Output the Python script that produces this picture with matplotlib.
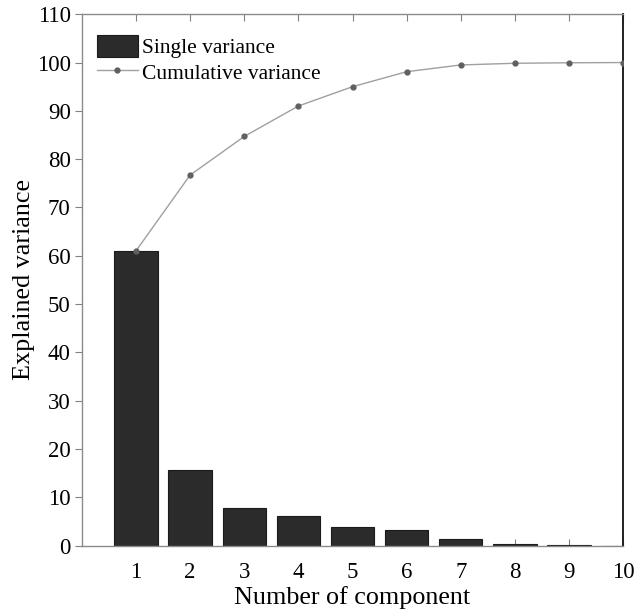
import numpy as np
import matplotlib.pyplot as plt

# values
components = [1, 2, 3, 4, 5, 6, 7, 8, 9, 10]
single_var = [61.0, 15.6, 7.9, 6.2, 3.9, 3.2, 1.45, 0.3, 0.2, 0.0]
cumulative_var = [61.0, 76.7, 84.7, 91.0, 95.0, 98.1, 99.5, 99.85, 99.95, 100.0]
y_ticks = [0, 10, 20, 30, 40, 50, 60, 70, 80, 90, 100, 110]

plt.rcParams['font.family'] = ['Liberation Serif', 'DejaVu Serif']

fig = plt.figure(figsize=(6.34, 6.13), dpi=100)
ax = fig.add_axes([0.129, 0.1098, 0.854, 0.867])

bars = ax.bar(components, single_var, width=0.8, color='#2b2b2b',
              edgecolor='#1a1a1a', linewidth=0.8, label='Single variance',
              zorder=2)
line, = ax.plot(components, cumulative_var, color='#a0a0a0', linewidth=1.0,
                marker='o', markersize=3.5, markerfacecolor='#606060',
                markeredgecolor='#606060', label='Cumulative variance',
                zorder=3)

ax.set_xlim(0, 10)
ax.set_ylim(0, 110)
ax.set_xticks(components)
ax.set_yticks(y_ticks)
ax.tick_params(axis='x', direction='in', top=True, length=5, width=0.8,
               color='#808080', labelsize=16.5, pad=12)
ax.tick_params(axis='y', direction='out', length=5, width=0.8,
               color='#808080', labelsize=16.5, pad=3)

for side in ['left', 'bottom', 'top']:
    ax.spines[side].set_color('#8a8a8a')
    ax.spines[side].set_linewidth(1.0)
ax.spines['right'].set_color('#202020')
ax.spines['right'].set_linewidth(1.4)

ax.set_xlabel('Number of component', fontsize=18.8, labelpad=2)
ax.set_ylabel('Explained variance', fontsize=18.8, labelpad=1)

ax.legend([bars, line], ['Single variance', 'Cumulative variance'],
          loc='upper left', frameon=False, fontsize=15.5, handlelength=1.9,
          handleheight=1.2, handletextpad=0.2, labelspacing=0.15,
          borderaxespad=0.3, bbox_to_anchor=(0.0, 0.99))

fig.savefig('out.png', dpi=100)
